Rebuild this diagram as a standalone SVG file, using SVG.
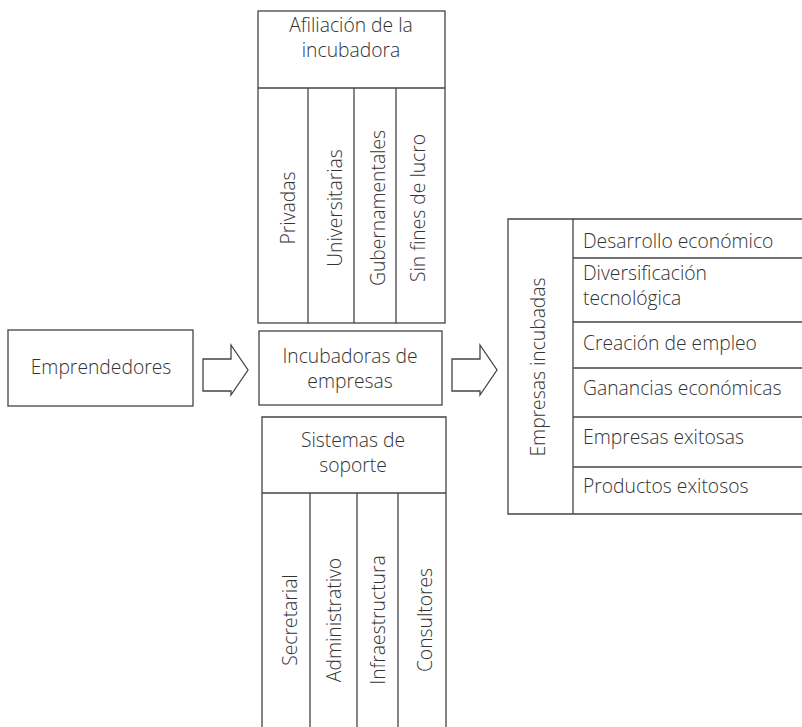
<svg xmlns="http://www.w3.org/2000/svg" width="802" height="727" viewBox="0 0 802 727">
<style>
.b{fill:#fff;stroke:#444;stroke-width:1.3}
.l{fill:none;stroke:#444;stroke-width:1.3}
text{font-family:"Open Sans","Liberation Sans",sans-serif;font-weight:300;font-size:19.3px;fill:#333}
.c{text-anchor:middle}
</style>
<rect width="802" height="727" fill="#fff"/>
<g id="connectors">
<polygon class="b" points="203,359 231,359 231,345 248,370 231,395 231,391 203,391"/>
<polygon class="b" points="452,359 480,359 480,345 497,370 480,395 480,391 452,391"/>
</g>
<g id="emprendedores">
<rect class="b" x="8" y="330" width="185" height="76"/>
<text class="c" x="101" y="374">Emprendedores</text>
</g>
<g id="incubadoras">
<rect class="b" x="259" y="331" width="183" height="74"/>
<text class="c" x="350" y="363">Incubadoras de</text>
<text class="c" x="350" y="388">empresas</text>
</g>
<g id="afiliacion">
<rect class="b" x="258" y="11" width="187" height="312"/>
<line class="l" x1="258" y1="88" x2="445" y2="88"/>
<line class="l" x1="308" y1="88" x2="308" y2="323"/>
<line class="l" x1="354" y1="88" x2="354" y2="323"/>
<line class="l" x1="396" y1="88" x2="396" y2="323"/>
<text class="c" x="351" y="32">Afiliación de la</text>
<text class="c" x="351" y="57">incubadora</text>
<text class="c" transform="translate(295,208) rotate(-90)">Privadas</text>
<text class="c" transform="translate(342,208) rotate(-90)">Universitarias</text>
<text class="c" transform="translate(385,208) rotate(-90)">Gubernamentales</text>
<text class="c" transform="translate(425,208) rotate(-90)">Sin fines de lucro</text>
</g>
<g id="sistemas">
<path class="b" d="M262,728 V417 H446 V728"/>
<line class="l" x1="262" y1="493" x2="446" y2="493"/>
<line class="l" x1="310" y1="493" x2="310" y2="728"/>
<line class="l" x1="357" y1="493" x2="357" y2="728"/>
<line class="l" x1="398" y1="493" x2="398" y2="728"/>
<text class="c" x="353" y="447">Sistemas de</text>
<text class="c" x="353" y="472">soporte</text>
<text class="c" transform="translate(297,620) rotate(-90)">Secretarial</text>
<text class="c" transform="translate(341,620) rotate(-90)">Administrativo</text>
<text class="c" transform="translate(385,620) rotate(-90)">Infraestructura</text>
<text class="c" transform="translate(432,620) rotate(-90)">Consultores</text>
</g>
<g id="empresas">
<path class="b" d="M803,219 H508 V514 H803"/>
<line class="l" x1="573" y1="219" x2="573" y2="514"/>
<line class="l" x1="573" y1="258" x2="803" y2="258"/>
<line class="l" x1="573" y1="322" x2="803" y2="322"/>
<line class="l" x1="573" y1="368" x2="803" y2="368"/>
<line class="l" x1="573" y1="417" x2="803" y2="417"/>
<line class="l" x1="573" y1="467" x2="803" y2="467"/>
<text class="c" transform="translate(545,367) rotate(-90)">Empresas incubadas</text>
<text x="583" y="248">Desarrollo económico</text>
<text x="583" y="280">Diversificación</text>
<text x="583" y="305">tecnológica</text>
<text x="583" y="350">Creación de empleo</text>
<text x="583" y="395">Ganancias económicas</text>
<text x="583" y="444">Empresas exitosas</text>
<text x="583" y="493">Productos exitosos</text>
</g>
</svg>
